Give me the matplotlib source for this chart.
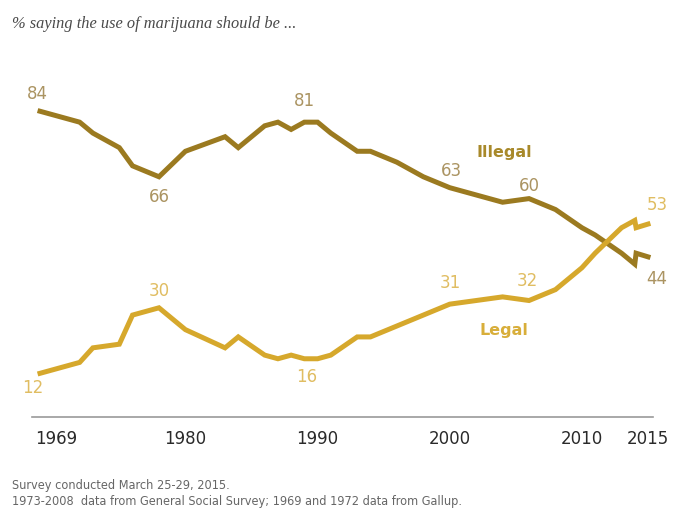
import matplotlib.pyplot as plt
from matplotlib.transforms import ScaledTranslation

# survey years (two Pew readings in 2014)
years = [1969, 1972, 1973, 1975, 1976, 1978, 1980, 1983, 1984, 1986, 1987, 1988,
         1989, 1990, 1991, 1993, 1994, 1996, 1998, 2000, 2002, 2004, 2006, 2008,
         2010, 2011, 2013, 2014, 2014.1, 2015]
illegal = [84, 81, 78, 74, 69, 66, 73, 77, 74, 80, 81, 79,
           81, 81, 78, 73, 73, 70, 66, 63, 61, 59, 60, 57,
           52, 50, 45, 42, 45, 44]
legal = [12, 15, 19, 20, 28, 30, 24, 19, 22, 17, 16, 17,
         16, 16, 17, 22, 22, 25, 28, 31, 32, 33, 32, 35,
         41, 45, 52, 54, 52, 53]

tick_years = [1969, 1980, 1990, 2000, 2010, 2015]

# labelled points: (year, value, x offset px, y offset px)
illegal_labels = [(1969, 84, -3, 17), (1978, 66, 0, -20), (1989, 81, 0, 21),
                  (2000, 63, 2, 17), (2006, 60, 0, 13), (2015, 44, 9, -22)]
legal_labels = [(1969, 12, -7, -15), (1978, 30, 0, 17), (1989, 16, 2, -18),
                (2000, 31, 1, 21), (2006, 32, -2, 20), (2015, 53, 9, 19)]

c_illegal = '#9b7a20'
c_legal = '#d6a82c'
c_illegal_txt = '#ab9462'
c_legal_txt = '#e0bd62'

fig = plt.figure(figsize=(7, 5.25), dpi=100)
ax = fig.add_axes([32 / 700, 1 - 417 / 525, 621 / 700, 327.6 / 525])

ax.plot(years, illegal, color=c_illegal, lw=3.6, solid_joinstyle='miter', zorder=3)
ax.plot(years, legal, color=c_legal, lw=3.6, solid_joinstyle='miter', zorder=3)

for x, v, dx, dy in illegal_labels:
    ax.annotate(str(v), (x, v), xytext=(dx, dy), textcoords='offset pixels',
                ha='center', va='center', fontsize=12, color=c_illegal_txt)
for x, v, dx, dy in legal_labels:
    ax.annotate(str(v), (x, v), xytext=(dx, dy), textcoords='offset pixels',
                ha='center', va='center', fontsize=12, color=c_legal_txt)

ax.text(2004.1, 72.7, 'Illegal', ha='center', va='center', fontsize=11.5,
        fontweight='bold', color='#a8892a')
ax.text(2004.1, 23.8, 'Legal', ha='center', va='center', fontsize=11.5,
        fontweight='bold', color='#d8ae3a')

ax.set_xlim(1969 - 8 / 13.2, 2015 + 5 / 13.2)
ax.set_ylim(0, 90)
ax.set_xticks(tick_years)
ax.set_xticklabels([str(y) for y in tick_years])
ax.tick_params(axis='x', length=0, pad=9, labelsize=12, labelcolor='#2a2a2a')
ax.set_yticks([])
for s in ['top', 'right', 'left']:
    ax.spines[s].set_visible(False)
ax.spines['bottom'].set_color('#9a9a9a')
ax.spines['bottom'].set_linewidth(1.2)

# first year label sits to the right of its point
lab0 = ax.xaxis.get_major_ticks()[0].label1
lab0.set_horizontalalignment('left')
lab0.set_transform(lab0.get_transform() + ScaledTranslation(-5 / 100, 0, fig.dpi_scale_trans))

fig.text(12 / 700, 1 - 24 / 525, '% saying the use of marijuana should be ...',
         ha='left', va='center', fontsize=11.8, style='italic',
         family='Liberation Serif', color='#4a4a4a')

foot = ['Survey conducted March 25-29, 2015.',
        '1973-2008  data from General Social Survey; 1969 and 1972 data from Gallup.']
for i, line in enumerate(foot):
    fig.text(12 / 700, 1 - (486 + 15 * i) / 525, line, ha='left', va='center',
             fontsize=9.1, fontstretch='condensed', family='DejaVu Sans',
             color='#666666')

fig.savefig('out.png', dpi=100)
